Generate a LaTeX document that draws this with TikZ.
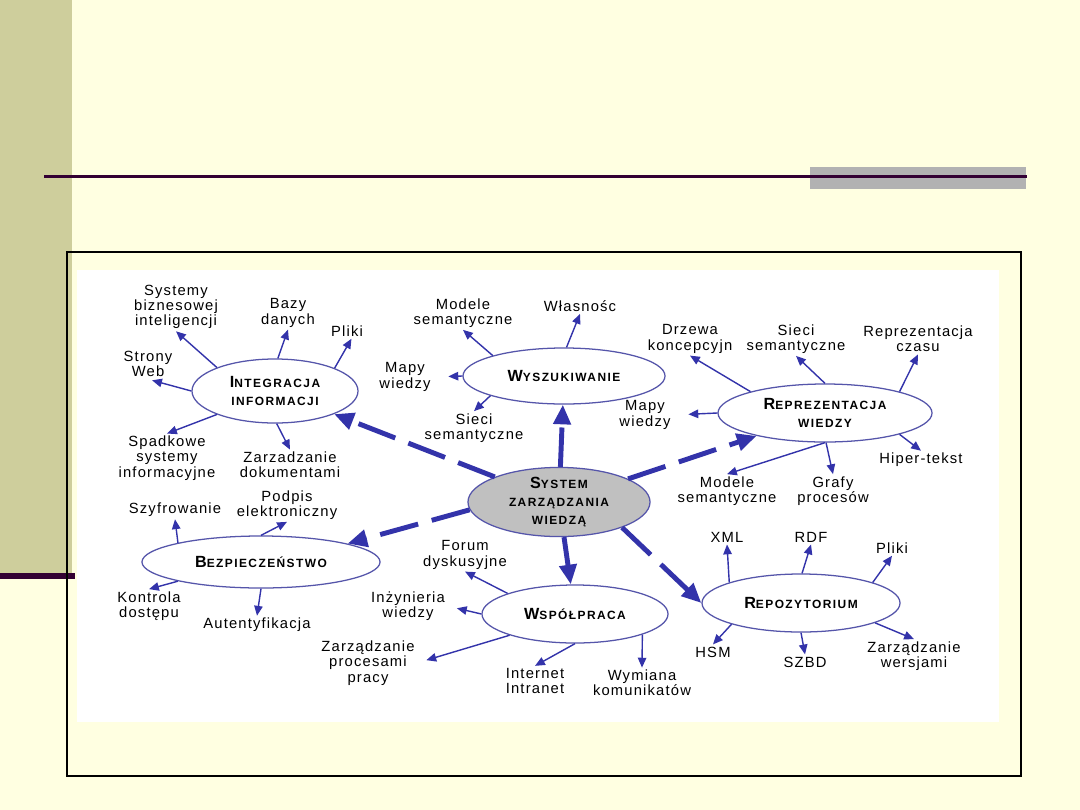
\documentclass[tikz,border=0pt]{standalone}
\usepackage{fontspec}
\setmainfont{Liberation Sans}
\newfontfamily\capsfont[LetterSpace=12]{Liberation Sans}
\newfontfamily\leaffont[LetterSpace=8]{Liberation Sans}
\usetikzlibrary{shapes.geometric,arrows.meta}

\definecolor{slidebg}{RGB}{255,255,225}
\definecolor{stripgreen}{RGB}{206,206,156}
\definecolor{barmauve}{RGB}{51,0,51}
\definecolor{bargrey}{RGB}{178,178,178}
\definecolor{arrowblue}{RGB}{51,51,170}
\definecolor{ringblue}{RGB}{85,85,170}
\definecolor{centregrey}{RGB}{192,192,192}

\newcommand{\firstltr}[1]{{\fontsize{11.5}{11}\selectfont #1}}

\begin{document}
\begin{tikzpicture}[x=0.025cm,y=-0.025cm,
    topic/.style={ellipse, draw=ringblue, line width=0.9pt, fill=white, inner sep=0pt,
                  align=center, font=\capsfont\bfseries\fontsize{8.5}{12.5}\selectfont},
    leaf/.style={align=center, inner sep=1.5pt, font=\leaffont\fontsize{10.5}{10.8}\selectfont},
    sub/.style={arrowblue, line width=1pt, -{Triangle[length=7pt,width=6pt]}},
    main/.style={arrowblue, line width=3.5pt, dash pattern=on 28pt off 10pt,
                 -{Triangle[length=14pt,width=12pt]}}]
    \useasboundingbox (0,0) rectangle (1080,810);

    % Slide background
    \fill[slidebg] (0,0) rectangle (1080,810);
    \fill[stripgreen] (0,0) rectangle (72,573);
    \fill[barmauve] (0,573) rectangle (75,579);
    \fill[bargrey] (810,167) rectangle (1026,189);
    \fill[barmauve] (44,174.5) rectangle (1027,178);
    \fill[white] (77,270) rectangle (999,722);
    \draw[black, line width=1pt] (67,252) rectangle (1021,776);

    % Topics
    \node[topic, fill=centregrey, minimum width=4.55cm, minimum height=1.7cm] (szw) at (559,502)
        {\firstltr{S}YSTEM\\ZARZĄDZANIA\\WIEDZĄ};
    \node[topic, minimum width=4.15cm, minimum height=1.6cm] (int) at (275,391)
        {\firstltr{I}NTEGRACJA\\INFORMACJI};
    \node[topic, minimum width=5.05cm, minimum height=1.4cm] (wys) at (564,376)
        {\firstltr{W}YSZUKIWANIE};
    \node[topic, minimum width=5.35cm, minimum height=1.45cm] (rpw) at (825,413)
        {\firstltr{R}EPREZENTACJA\\WIEDZY};
    \node[topic, minimum width=5.95cm, minimum height=1.3cm] (bez) at (261,562)
        {\firstltr{B}EZPIECZEŃSTWO};
    \node[topic, minimum width=4.65cm, minimum height=1.45cm] (wsp) at (575,614)
        {\firstltr{W}SPÓŁPRACA};
    \node[topic, minimum width=4.95cm, minimum height=1.45cm] (rpz) at (801,603)
        {\firstltr{R}EPOZYTORIUM};

    % Main links
    \draw[main] (szw) -- (int);
    \draw[main] (szw) -- (wys);
    \draw[main] (szw) -- (rpw);
    \draw[main] (szw.185) -- (bez.12);
    \draw[main] (szw) -- (wsp);
    \draw[main] (szw.-22) -- (rpz.west);

    % Integracja informacji
    \node[leaf] (sysbi) at (176,307) {Systemy\\biznesowej\\inteligencji};
    \node[leaf] (bazy) at (288,313) {Bazy\\danych};
    \node[leaf] (pliki1) at (347,331) {Pliki};
    \node[leaf] (strony) at (148,364) {Strony\\Web};
    \node[leaf] (spadk) at (167,458) {Spadkowe\\systemy\\informacyjne};
    \node[leaf] (zdok) at (290,465) {Zarzadzanie\\dokumentami};
    \draw[sub] (int.158) -- (sysbi.south);
    \draw[sub] (int.85) -- (bazy.south);
    \draw[sub] (int.21) -- (pliki1.-60);
    \draw[sub, shorten >=3pt] (int.west) -- (strony.south);
    \draw[sub] (int.-158) -- (spadk.north);
    \draw[sub] (int.-87) -- (zdok.north);

    % Wyszukiwanie
    \node[leaf] (modsem1) at (463,313) {Modele\\semantyczne};
    \node[leaf] (wlasn) at (580,306) {Własnośc};
    \node[leaf] (mapy1) at (405,377) {Mapy\\wiedzy};
    \node[leaf] (sieci1) at (474,428) {Sieci\\semantyczne};
    \draw[sub] (wys.164) -- (modsem1.south);
    \draw[sub] (wys.85) -- (wlasn.south);
    \draw[sub, shorten >=11pt] (wys.west) -- (mapy1.east);
    \draw[sub] (wys.195) -- (sieci1.north);

    % Reprezentacja wiedzy
    \node[leaf] (drzewa) at (690,339) {Drzewa\\koncepcyjn};
    \node[leaf] (sieci2) at (796,339) {Sieci\\semantyczne};
    \node[leaf] (repcz) at (918,339) {Reprezentacja\\czasu};
    \node[leaf] (mapy2) at (645,415) {Mapy\\wiedzy};
    \node[leaf] (hiper) at (921,460) {Hiper-tekst};
    \node[leaf] (modsem2) at (727,491) {Modele\\semantyczne};
    \node[leaf] (grafy) at (833,491) {Grafy\\procesów};
    \draw[sub] (rpw.164) -- (drzewa.south);
    \draw[sub] (rpw.north) -- (sieci2.south);
    \draw[sub] (rpw.16) -- (repcz.south);
    \draw[sub, shorten >=11pt] (rpw.west) -- (mapy2.east);
    \draw[sub] (rpw.-16) -- (hiper.north);
    \draw[sub] (rpw.-90) -- (modsem2.north);
    \draw[sub] (rpw.-88) -- (grafy.north);

    % Bezpieczenstwo
    \node[leaf] (szyfr) at (175,510) {Szyfrowanie};
    \node[leaf] (podpis) at (287,505) {Podpis\\elektroniczny};
    \node[leaf] (kontr) at (149,606) {Kontrola\\dostępu};
    \node[leaf] (auten) at (257,625) {Autentyfikacja};
    \draw[sub] (bez.167) -- (szyfr.south);
    \draw[sub] (bez.90) -- (podpis.south);
    \draw[sub] (bez.193) -- (kontr.north);
    \draw[sub] (bez.-90) -- (auten.north);

    % Wspolpraca
    \node[leaf] (forum) at (465,555) {Forum\\dyskusyjne};
    \node[leaf] (inzyn) at (408,606) {Inżynieria\\wiedzy};
    \node[leaf] (zproc) at (368,663) {Zarządzanie\\procesami\\pracy};
    \node[leaf] (inter) at (535,681) {Internet\\Intranet};
    \node[leaf] (wymia) at (642,683) {Wymiana\\komunikatów};
    \draw[sub] (wsp.163) -- (forum.south);
    \draw[sub, shorten >=7pt] (wsp.west) -- (inzyn.east);
    \draw[sub, shorten >=7pt] (wsp.198) -- (zproc.east);
    \draw[sub] (wsp.-90) -- (inter.north);
    \draw[sub] (wsp.-17) -- (wymia.north);

    % Repozytorium
    \node[leaf] (xml) at (727,537) {XML};
    \node[leaf] (rdf) at (811,537) {RDF};
    \node[leaf] (pliki2) at (892,548) {Pliki};
    \node[leaf] (hsm) at (713,652) {HSM};
    \node[leaf] (szbd) at (805,662) {SZBD};
    \node[leaf] (zwers) at (914,656) {Zarządzanie\\wersjami};
    \draw[sub] (rpz.164) -- (xml.south);
    \draw[sub] (rpz.88) -- (rdf.south);
    \draw[sub] (rpz.16) -- (pliki2.south);
    \draw[sub] (rpz.197) -- (hsm.north);
    \draw[sub] (rpz.-90) -- (szbd.north);
    \draw[sub] (rpz.-15) -- (zwers.north);
\end{tikzpicture}
\end{document}
